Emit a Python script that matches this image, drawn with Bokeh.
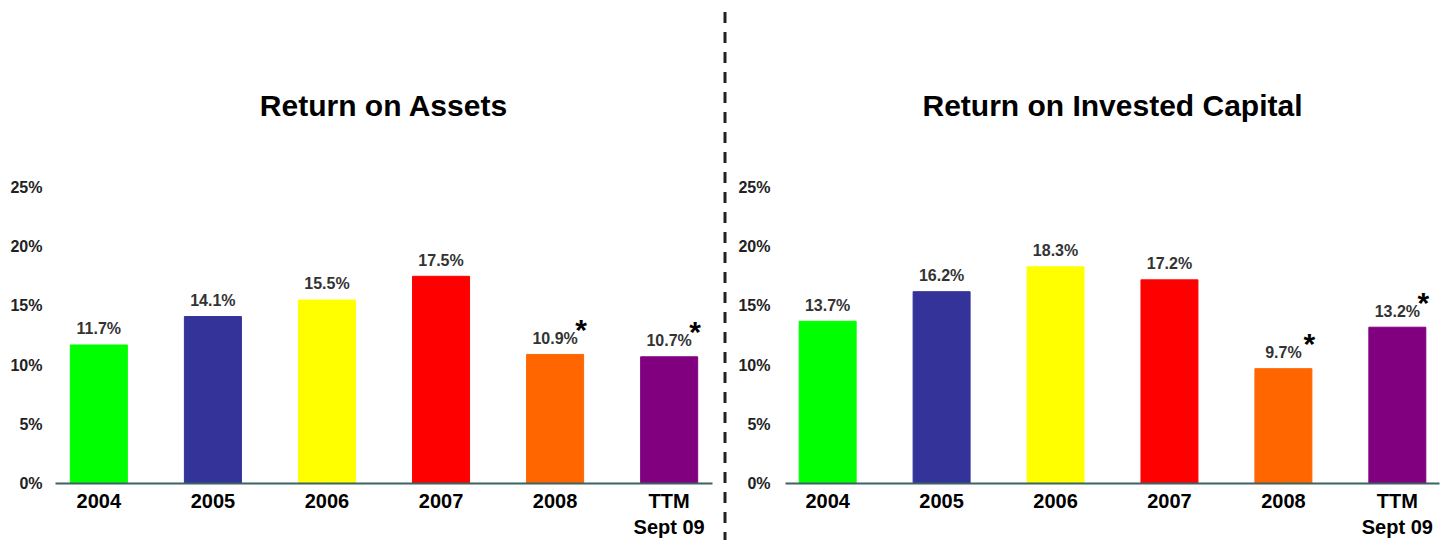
from bokeh.plotting import figure
from bokeh.layouts import row
from bokeh.models import ColumnDataSource, Range1d, FixedTicker, Div
from bokeh.embed import file_html
from bokeh.resources import INLINE
from bokeh.core.properties import value

# ---- data ----
categories = ["2004", "2005", "2006", "2007", "2008", "TTM\nSept 09"]
roa = [11.7, 14.1, 15.5, 17.5, 10.9, 10.7]
roic = [13.7, 16.2, 18.3, 17.2, 9.7, 13.2]
bar_colors = ["#00FF00", "#333399", "#FFFF00", "#FF0000", "#FF6600", "#800080"]
footnote = [False, False, False, False, True, True]
y_ticks = [0, 5, 10, 15, 20, 25]
y_tick_labels = ["0%", "5%", "10%", "15%", "20%", "25%"]
titles = ["Return on Assets", "Return on Invested Capital"]

FONT = "Liberation Sans"
H = 540


def make_chart(title, vals, width, border_left, border_right, x_start, x_end, y_standoff):
    p = figure(width=width, height=H, output_backend="svg", toolbar_location=None,
               title=title,
               x_range=Range1d(x_start, x_end), y_range=Range1d(0, 25),
               min_border_left=border_left, min_border_right=border_right,
               min_border_top=187, min_border_bottom=57,
               outline_line_color=None, background_fill_color="white",
               border_fill_color="white")
    idx = list(range(len(categories)))
    labels = [f"{v:.1f}%" for v in vals]
    src = ColumnDataSource(dict(x=idx, top=vals, color=bar_colors, label=labels))
    p.vbar(x="x", top="top", bottom=0, width=0.5, fill_color="color",
           line_color="color", source=src)
    p.text(x="x", y="top", text="label", source=src, text_align="center",
           text_baseline="alphabetic", y_offset=-16, text_font=value(FONT),
           text_font_style="bold", text_font_size="16px", text_color="#333333")
    sx = [i for i in idx if footnote[i]]
    sy = [vals[i] for i in idx if footnote[i]]
    star = ColumnDataSource(dict(x=sx, y=sy, t=["*"] * len(sx)))
    p.text(x="x", y="y", text="t", source=star, text_align="center",
           text_baseline="alphabetic", x_offset=26, y_offset=-25,
           text_font=value(FONT), text_font_style="bold",
           text_font_size="30px", text_color="black")

    p.title.align = "center"
    p.title.text_font = FONT
    p.title.text_font_size = "30px"
    p.title.text_font_style = "bold"
    p.title.text_color = "black"
    p.title.standoff = 132

    p.xgrid.visible = False
    p.ygrid.visible = False

    p.xaxis.ticker = FixedTicker(ticks=idx)
    p.xaxis.major_label_overrides = {i: c for i, c in zip(idx, categories)}
    p.xaxis.axis_line_color = "#3B6363"
    p.xaxis.axis_line_width = 2
    p.xaxis.major_tick_line_color = None
    p.xaxis.minor_tick_line_color = None
    p.xaxis.major_tick_out = 0
    p.xaxis.major_tick_in = 0
    p.xaxis.major_label_standoff = 6
    p.xaxis.major_label_text_font = FONT
    p.xaxis.major_label_text_font_size = "20px"
    p.xaxis.major_label_text_font_style = "bold"
    p.xaxis.major_label_text_color = "black"

    p.yaxis.ticker = FixedTicker(ticks=y_ticks)
    p.yaxis.major_label_overrides = {t: l for t, l in zip(y_ticks, y_tick_labels)}
    p.yaxis.axis_line_color = None
    p.yaxis.major_tick_line_color = None
    p.yaxis.minor_tick_line_color = None
    p.yaxis.major_tick_out = 0
    p.yaxis.major_tick_in = 0
    p.yaxis.major_label_standoff = y_standoff
    p.yaxis.major_label_text_font = FONT
    p.yaxis.major_label_text_font_size = "16px"
    p.yaxis.major_label_text_font_style = "bold"
    p.yaxis.major_label_text_color = "#222222"
    return p


left = make_chart(titles[0], roa, 718, 55, 6, -0.38, 5.38, 13)
right = make_chart(titles[1], roic, 708, 53, 1, -0.37, 5.37, 15)

divider = Div(width=14, height=H, margin=0,
              text=('<svg width="14" height="%d" xmlns="http://www.w3.org/2000/svg" '
                    'style="display:block">'
                    '<line x1="7" y1="12" x2="7" y2="%d" stroke="#222222" '
                    'stroke-width="3" stroke-dasharray="11 9"/></svg>') % (H, H))

layout = row(left, divider, right, spacing=0)

open("out.html", "w").write(file_html(layout, INLINE))
